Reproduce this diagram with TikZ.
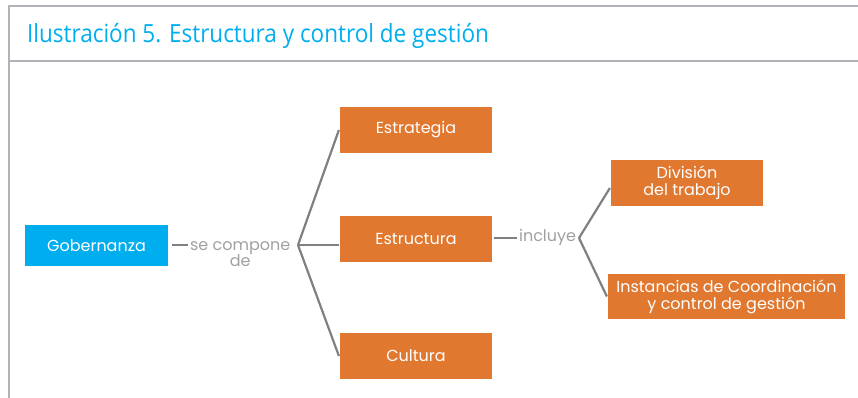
\documentclass[tikz,border=0pt]{standalone}
\usepackage{fontspec}
\setmainfont{Poppins}
\newfontfamily\titlefont[FakeStretch=0.9]{Open Sans}
\usepackage{tikz}
\usetikzlibrary{positioning,calc}

\definecolor{cian}{RGB}{0,174,239}
\definecolor{naranja}{RGB}{224,120,48}
\definecolor{gris}{RGB}{128,128,132}
\definecolor{grisclaro}{RGB}{160,160,160}
\definecolor{marco}{RGB}{176,180,184}

\begin{document}
\begin{tikzpicture}[x=1pt,y=-1pt,line width=2.2pt]
            \tikzstyle{caja}=[fill=naranja, draw=none, text=white,
            minimum width=152pt, minimum height=46pt, inner sep=2pt,
            align=center, font=\fontsize{16}{17}\selectfont]
            \tikzstyle{enlace}=[text=grisclaro, inner sep=1pt, align=center,
            font=\fontsize{16}{16}\selectfont]
            \useasboundingbox (0,0) rectangle (858,398);
            % marco y titulo
            \draw[marco, line width=1.4pt] (9,398) -- (9,6) -- (858,6);
            \draw[marco, line width=1.4pt] (9,61) -- (858,61);
            \node[anchor=base west, text=cian, inner sep=0pt,
                  font=\titlefont\fontsize{25}{26}\selectfont] (titulo) at (26,43)
                  {Ilustración 5. Estructura y control de gestión};
            %                Estrategia
            % Gobernanza     Estructura     Division
            %                Cultura        Instancias
            \node[caja, fill=cian, minimum width=143pt, minimum height=41pt] (gob) at (96.5,245.5) {Gobernanza};
            \node[caja] (estrat) at (416,130) {Estrategia};
            \node[caja] (estruc) at (416,239) {Estructura};
            \node[caja] (cult) at (416,356) {Cultura};
            \node[caja] (div) at (687,183) {División\\del trabajo};
            \node[caja, minimum width=237pt, minimum height=45pt] (inst) at (726.5,296.5)
                  {Instancias de Coordinación\\y control de gestión};
            \node[enlace, anchor=west] (compone) at (188,254) {se compone\\de};
            \node[enlace, anchor=west] (incluye) at (517,237) {incluye};
            \coordinate (c1) at (172,245);
            \coordinate (j1) at (298,245);
            \coordinate (c2) at (494,238);
            \coordinate (j2) at (579,238);
            \path[draw=gris] (c1) -- (compone.west |- c1)
                  (j1) edge (estrat.west)
                  (j1) edge (estruc.west |- j1)
                  (j1) edge (cult.west);
            \path[draw=gris] (c2) -- (incluye.west |- c2)
                  (j2) edge ([yshift=-5pt]div.west)
                  (j2) edge (inst.west);
\end{tikzpicture}
\end{document}
